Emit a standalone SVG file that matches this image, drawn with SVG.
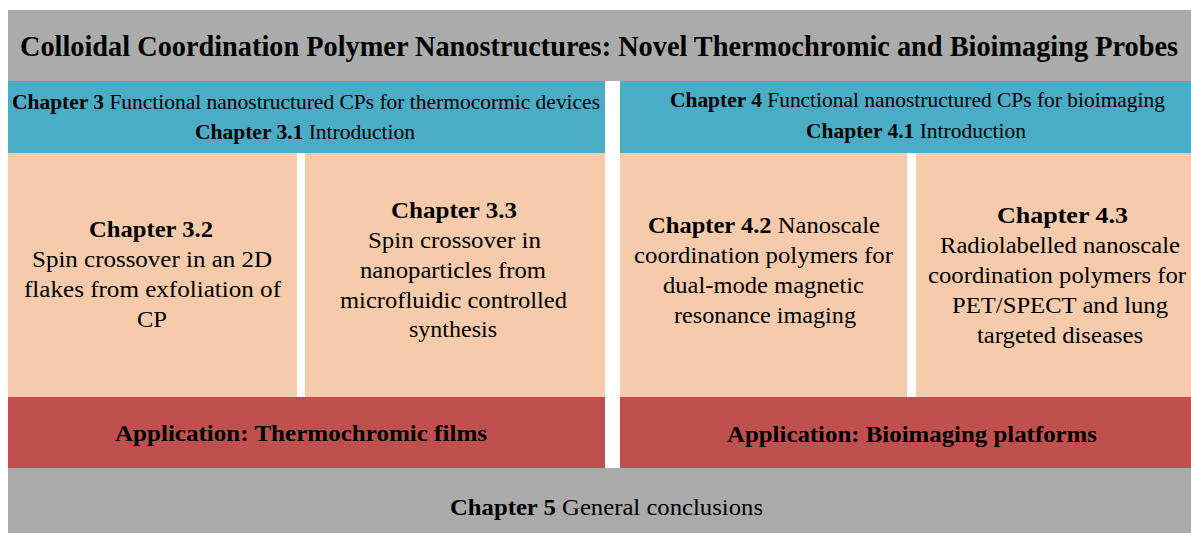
<svg xmlns="http://www.w3.org/2000/svg" width="1191" height="533" viewBox="0 0 1191 533">
<style>
text{font-family:"Liberation Serif","Times New Roman",serif;fill:#000}
.b{font-weight:bold}
.t{font-size:30px;font-weight:bold}
.h{font-size:21px}
.p{font-size:24px}
.gray{fill:#ABABAB}
.blue{fill:#4BACC6}
.peach{fill:#F5CBAC}
.red{fill:#C0504D}
</style>
<rect x="0" y="0" width="1191" height="533" fill="#fff"/>
<g id="title">
<rect class="gray" x="8" y="10" width="1183" height="71"/>
<text class="t" x="20" y="56" textLength="1158" lengthAdjust="spacingAndGlyphs">Colloidal Coordination Polymer Nanostructures: Novel Thermochromic and Bioimaging Probes</text>
</g>
<g id="ch3">
<rect class="blue" x="8" y="81" width="597" height="72"/>
<text class="h" x="12" y="109" textLength="588" lengthAdjust="spacingAndGlyphs"><tspan class="b">Chapter 3</tspan> Functional nanostructured CPs for thermocormic devices</text>
<text class="h" x="195" y="139" textLength="220" lengthAdjust="spacingAndGlyphs"><tspan class="b">Chapter 3.1</tspan> Introduction</text>
</g>
<g id="ch4">
<rect class="blue" x="620" y="81" width="571" height="72"/>
<text class="h" x="670" y="107" textLength="495" lengthAdjust="spacingAndGlyphs"><tspan class="b">Chapter 4</tspan> Functional nanostructured CPs for bioimaging</text>
<text class="h" x="806" y="138" textLength="220" lengthAdjust="spacingAndGlyphs"><tspan class="b">Chapter 4.1</tspan> Introduction</text>
</g>
<g id="ch32">
<rect class="peach" x="8" y="153" width="289" height="244"/>
<text class="p b" x="89" y="237" textLength="124" lengthAdjust="spacingAndGlyphs">Chapter 3.2</text>
<text class="p" x="32" y="267" textLength="240" lengthAdjust="spacingAndGlyphs">Spin crossover  in an 2D</text>
<text class="p" x="24" y="297" textLength="257" lengthAdjust="spacingAndGlyphs">flakes  from  exfoliation  of</text>
<text class="p" x="137" y="327" textLength="30" lengthAdjust="spacingAndGlyphs">CP</text>
</g>
<g id="ch33">
<rect class="peach" x="305" y="153" width="300" height="244"/>
<text class="p b" x="391" y="218" textLength="126" lengthAdjust="spacingAndGlyphs">Chapter 3.3</text>
<text class="p" x="368" y="248" textLength="173" lengthAdjust="spacingAndGlyphs">Spin crossover  in</text>
<text class="p" x="360" y="278" textLength="186" lengthAdjust="spacingAndGlyphs">nanoparticles  from</text>
<text class="p" x="340" y="308" textLength="227" lengthAdjust="spacingAndGlyphs">microfluidic  controlled</text>
<text class="p" x="409" y="337" textLength="88" lengthAdjust="spacingAndGlyphs">synthesis</text>
</g>
<g id="ch42">
<rect class="peach" x="620" y="153" width="287" height="244"/>
<text class="p" x="648" y="233" textLength="232" lengthAdjust="spacingAndGlyphs"><tspan class="b">Chapter 4.2</tspan> Nanoscale</text>
<text class="p" x="634" y="263" textLength="259" lengthAdjust="spacingAndGlyphs">coordination  polymers  for</text>
<text class="p" x="663" y="293" textLength="201" lengthAdjust="spacingAndGlyphs">dual-mode  magnetic</text>
<text class="p" x="674" y="323" textLength="182" lengthAdjust="spacingAndGlyphs">resonance  imaging</text>
</g>
<g id="ch43">
<rect class="peach" x="916" y="153" width="275" height="244"/>
<text class="p b" x="997" y="223" textLength="131" lengthAdjust="spacingAndGlyphs">Chapter 4.3</text>
<text class="p" x="940" y="253" textLength="240" lengthAdjust="spacingAndGlyphs">Radiolabelled  nanoscale</text>
<text class="p" x="928" y="283" textLength="258" lengthAdjust="spacingAndGlyphs">coordination  polymers  for</text>
<text class="p" x="952" y="313" textLength="216" lengthAdjust="spacingAndGlyphs">PET/SPECT and lung</text>
<text class="p" x="977" y="343" textLength="166" lengthAdjust="spacingAndGlyphs">targeted  diseases</text>
</g>
<g id="app-thermo">
<rect class="red" x="8" y="397" width="597" height="71"/>
<text class="p b" x="115" y="441" textLength="372" lengthAdjust="spacingAndGlyphs">Application: Thermochromic  films</text>
</g>
<g id="app-bio">
<rect class="red" x="620" y="397" width="571" height="71"/>
<text class="p b" x="727" y="442" textLength="370" lengthAdjust="spacingAndGlyphs">Application: Bioimaging platforms</text>
</g>
<g id="ch5">
<rect class="gray" x="8" y="468" width="1183" height="65"/>
<text class="p" x="450" y="515" textLength="313" lengthAdjust="spacingAndGlyphs"><tspan class="b">Chapter 5</tspan> General  conclusions</text>
</g>
<g id="connectors"></g>
</svg>
